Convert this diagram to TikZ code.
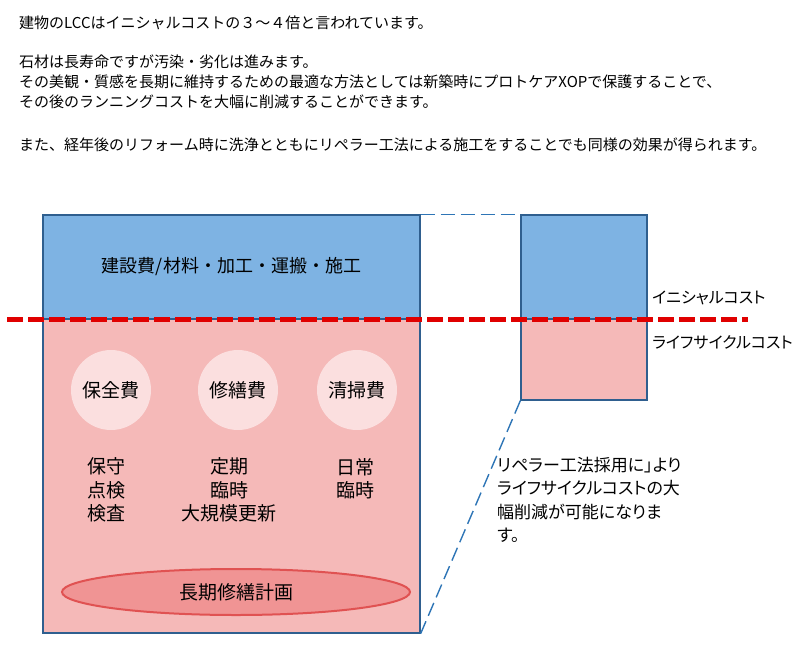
\documentclass[tikz,border=0pt]{standalone}
\usepackage{fontspec}
\setmainfont{Noto Sans CJK JP}
\newfontfamily\paltfont{Noto Sans CJK JP}[RawFeature=+palt]
\usetikzlibrary{shapes.geometric}
\definecolor{initblue}{HTML}{7EB3E3}
\definecolor{boxline}{HTML}{2F5F8F}
\definecolor{lifepink}{HTML}{F5B9B8}
\definecolor{circpink}{HTML}{FBDFDF}
\definecolor{planfill}{HTML}{F09494}
\definecolor{planline}{HTML}{E05252}
\definecolor{cutred}{HTML}{E00000}
\definecolor{zoomblue}{HTML}{2E75B6}

\tikzset{
    costbox/.style={draw=boxline, line width=1.3pt, inner sep=0pt},
    costcircle/.style={circle, fill=circpink, minimum size=80pt, inner sep=0pt, font=\fontsize{19}{23}\selectfont},
    itemlist/.style={align=center, inner sep=0pt, font=\fontsize{19}{23.3}\selectfont},
    planellipse/.style={ellipse, draw=planline, line width=2pt, fill=planfill, minimum width=348pt, minimum height=46pt, inner sep=0pt, font=\fontsize{19}{23}\selectfont},
    toptext/.style={anchor=west, inner sep=0pt, font=\fontsize{15}{20}\selectfont},
    sidelabel/.style={anchor=west, inner sep=0pt, font=\paltfont\fontsize{16}{20}\selectfont},
    zoomline/.style={draw=zoomblue, line width=1.4pt, dash pattern=on 14pt off 6pt},
    cutline/.style={draw=cutred, line width=5pt, dash pattern=on 16pt off 5pt}
}

\begin{document}
\begin{tikzpicture}[x=1pt,y=-1pt]
    \useasboundingbox (0,0) rectangle (800,661);

    \foreach \y/\t in {23/{建物のLCCはイニシャルコストの３～４倍と言われています。},
                       62/{石材は長寿命ですが汚染・劣化は進みます。},
                       82/{その美観・質感を長期に維持するための最適な方法としては新築時にプロトケアXOPで保護することで、},
                       102/{その後のランニングコストを大幅に削減することができます。},
                       145/{また、経年後のリフォーム時に洗浄とともにリペラー工法による施工をすることでも同様の効果が得られます。}}
        \node[toptext] (line\y) at (19,\y) {\t};

    \node[costbox, fill=initblue, minimum width=377pt, minimum height=104pt, font=\fontsize{18}{22}\selectfont] (lcctop) at (231.5,267) {建設費/材料・加工・運搬・施工};
    \node[costbox, fill=lifepink, minimum width=377pt, minimum height=314pt] (lccbot) at (231.5,476) {};
    \node[costbox, fill=initblue, minimum width=126pt, minimum height=104pt] (rtop) at (584,267) {};
    \node[costbox, fill=lifepink, minimum width=126pt, minimum height=81pt] (rbot) at (584,359.5) {};

    \foreach \x/\nm/\lbl in {111/hozen/保全費, 238/shuzen/修繕費, 357/seiso/清掃費}
        \node[costcircle] (\nm) at (\x,390) {\lbl};

    \node[itemlist] (hozenlist) at (106,490) {保守\\点検\\検査};
    \node[itemlist] (shuzenlist) at (229,490) {定期\\臨時\\大規模更新};
    \node[itemlist] (seisolist) at (355,478.5) {日常\\臨時};

    \node[planellipse] (plan) at (236,592) {長期修繕計画};

    \coordinate (cutL) at (7,319);
    \coordinate (cutR) at (748,319);
    \draw[cutline] (cutL) -- (cutR);

    \draw[zoomline] (lcctop.north east) -- (rtop.north west);
    \draw[zoomline] (rbot.south west) -- (lccbot.south east);

    \node[sidelabel] (initlabel) at (652,298) {イニシャルコスト};
    \node[sidelabel] (lifelabel) at (652,342) {ライフサイクルコスト};

    \node[anchor=north west, align=left, inner sep=0pt, font=\paltfont\fontsize{17}{23.3}\selectfont] (note) at (497,457) {リペラー工法採用に」より\\ライフサイクルコストの大\\幅削減が可能になりま\\す。};
\end{tikzpicture}
\end{document}
